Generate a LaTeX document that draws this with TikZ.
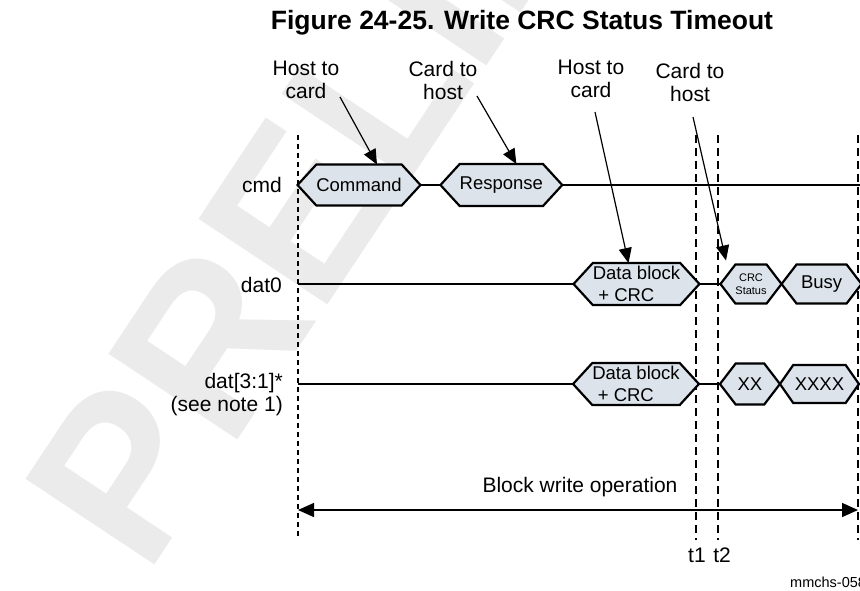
\documentclass[tikz,border=0pt]{standalone}
\usepackage{fontspec}
\setmainfont{Liberation Sans}
\usepackage{xcolor}
\usepackage{tikz}
\usetikzlibrary{arrows.meta, positioning, shapes.symbols}

\definecolor{hexfill}{RGB}{220,227,235}
\definecolor{wmark}{RGB}{235,235,235}

\tikzset{
  wave/.style={draw, line width=2.2pt, fill=hexfill, signal, signal to=east and west,
    signal pointer angle=95, inner sep=0pt, outer sep=0pt, minimum height=41pt, font=\fontsize{18.5}{22}\selectfont},
  trace/.style={line width=2.5pt},
  guide/.style={line width=1.3pt, dash pattern=on 8pt off 5pt},
  callout/.style={line width=1.2pt, -{Triangle[length=15pt,width=13pt]}},
  span/.style={line width=1.5pt, {Triangle[length=16pt,width=14pt]}-{Triangle[length=16pt,width=14pt]}},
  lbl/.style={font=\fontsize{21}{23}\selectfont, inner sep=0pt, align=center},
}

\begin{document}
\begin{tikzpicture}[x=1pt, y=-1pt]
      \useasboundingbox (0,0) rectangle (860,590);

      % Watermark
      \begin{scope}
        \clip (0,0) rectangle (860,567);
        \node[wmark, font=\fontsize{225}{225}\selectfont\bfseries, inner sep=0pt,
          rotate=56.4, anchor=base west] (stamp) at (146,578) {PRELIMINARY};
      \end{scope}

      \node[font=\fontsize{26.5}{30}\selectfont\bfseries, inner sep=0pt] (title) at (522,23) {Figure 24-25. Write CRC Status Timeout};

      % Time markers
      \draw[guide, dash pattern=on 5pt off 4pt] (298,135) -- (298,537);
      \foreach \x in {696,718,858} {
        \draw[guide] (\x,135) -- (\x,540);
      }

      % Signal names
      \node[lbl, anchor=east] (cmdName) at (282,185) {cmd};
      \node[lbl, anchor=east] (dat0Name) at (282,285) {dat0};
      \node[lbl, anchor=east, align=right] (datxName) at (283,395) {dat[3:1]*\\(see note 1)};

      % cmd line
      \node[wave, minimum width=120pt] (cmdA) at (359,185) {Command};
      \node[wave, minimum width=121pt, minimum height=42pt, right=20pt of cmdA] (rspA) {Response};
      \coordinate (cmdEnd) at (862,185);
      \draw[trace] (cmdA.east) -- (rspA.west);
      \draw[trace] (rspA.east) -- (cmdEnd);

      % dat0 line
      \coordinate (dat0Start) at (298,284);
      \node[wave, minimum width=121pt, minimum height=42pt, align=left] (dbA) at (636.5,284) {Data block\\\hspace*{0.3em}+ CRC};
      \node[wave, minimum width=60pt, minimum height=39pt, signal pointer angle=105,
        font=\fontsize{11}{13}\selectfont, align=center, right=21pt of dbA] (crc) {CRC\\Status};
      \node[wave, minimum width=80pt, minimum height=39pt, signal pointer angle=105, right=0pt of crc] (busy) {Busy};
      \draw[trace] (dat0Start) -- (dbA.west);
      \draw[trace] (dbA.east) -- (crc.west);

      % dat[3:1] lines
      \coordinate (datxStart) at (298,384);
      \node[wave, minimum width=121pt, minimum height=42pt, align=left] (dbB) at (636,384) {Data block\\\hspace*{0.3em}+ CRC};
      \node[wave, minimum width=60pt, signal pointer angle=105, right=21pt of dbB] (xxA) {XX};
      \node[wave, minimum width=79pt, minimum height=38pt, signal pointer angle=110, right=0pt of xxA] (xxB) {XXXX};
      \draw[trace] (datxStart) -- (dbB.west);
      \draw[trace] (dbB.east) -- (xxA.west);

      % Direction notes
      \node[lbl] (noteA) at (306,80) {Host to\\card};
      \node[lbl] (noteB) at (443,80) {Card to\\host};
      \node[lbl] (noteC) at (591,79) {Host to\\card};
      \node[lbl] (noteD) at (690,82) {Card to\\host};
      \coordinate (fromA) at (340,97);
      \coordinate (fromB) at (477,96);
      \coordinate (fromC) at (595,112);
      \coordinate (fromD) at (693,117);
      \draw[callout] (fromA) -- ([xshift=18pt]cmdA.north);
      \draw[callout] (fromB) -- ([xshift=15pt]rspA.north);
      \draw[callout] (fromC) -- ([xshift=-8pt]dbA.north);
      \draw[callout] (fromD) -- ([xshift=-25pt,yshift=4pt]crc.north);

      % Block write span
      \coordinate (opL) at (298,510);
      \coordinate (opR) at (858,510);
      \node[lbl] (opText) at (580,487) {Block write operation};
      \draw[span] (opL) -- (opR);

      \node[lbl] (tOne) at (697,555) {t1};
      \node[lbl] (tTwo) at (722,555) {t2};
      \node[font=\fontsize{14.5}{16}\selectfont, inner sep=0pt, anchor=west] (figId) at (790,582) {mmchs-058};
    \end{tikzpicture}
\end{document}
